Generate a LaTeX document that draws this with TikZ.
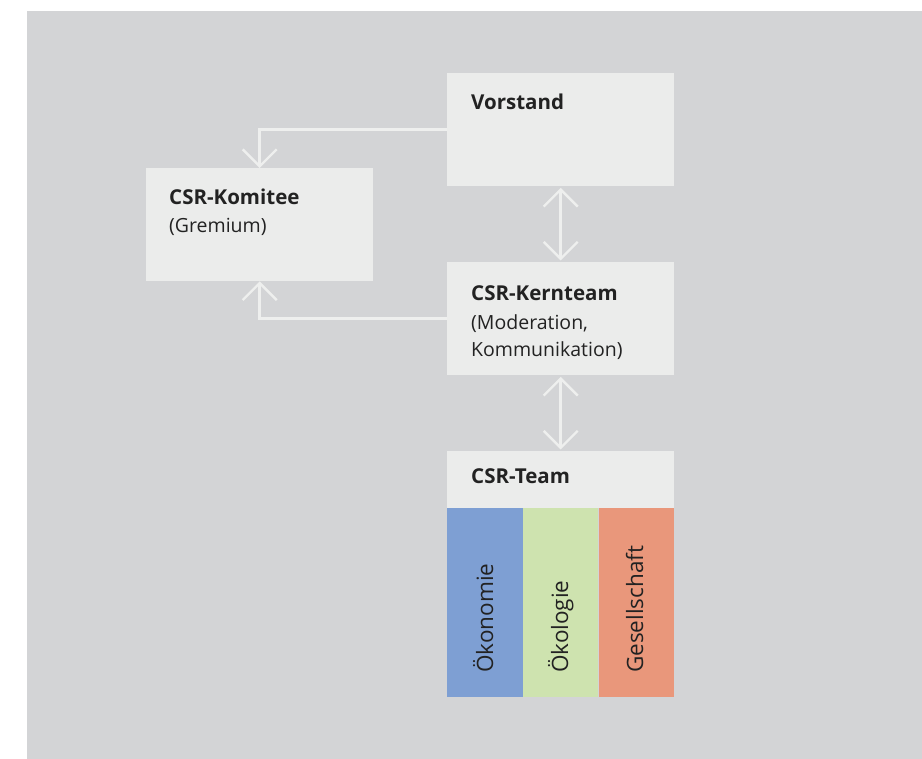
\documentclass[tikz,border=0pt]{standalone}
\usepackage{fontspec}
\setmainfont{Open Sans}
\usetikzlibrary{arrows.meta}
\definecolor{bggray}{HTML}{D3D4D6}
\definecolor{boxgray}{HTML}{EBECEB}
\definecolor{oeko}{HTML}{7E9FD3}
\definecolor{ecol}{HTML}{CEE3AF}
\definecolor{soc}{HTML}{E9977B}
\definecolor{arrw}{HTML}{EEEFEE}
\definecolor{txt}{HTML}{222222}
\tikzset{
  box/.style={draw=none, fill=boxgray, minimum width=227pt, minimum height=113pt, inner sep=0pt, anchor=north west},
  col/.style={draw=none, minimum width=75.5pt, minimum height=189pt, inner sep=0pt, anchor=north west},
  head/.style={font=\fontsize{20.5}{24}\selectfont\bfseries, text=txt, anchor=base west, inner sep=0pt},
  sub/.style={font=\fontsize{19.5}{24}\selectfont, text=txt, anchor=base west, inner sep=0pt},
  vert/.style={font=\fontsize{22.5}{26}\selectfont, text=txt, anchor=base west, inner sep=0pt, rotate=90},
  arr/.style={draw=arrw, line width=2.6pt, -{Straight Barb[length=17pt,width=34pt,line width=2.4pt]}},
  darr/.style={draw=arrw, line width=2.6pt, {Straight Barb[length=17pt,width=34pt,line width=2.4pt]}-{Straight Barb[length=17pt,width=34pt,line width=2.4pt]}}
}
\begin{document}
\begin{tikzpicture}[x=1pt,y=-1pt]
\useasboundingbox (0,0) rectangle (922,759);
\fill[bggray] (27,11) rectangle (922,759);
% boxes
\node[box] (vorstand) at (447,73) {};
\node[box] (komitee) at (146,168) {};
\node[box] (kernteam) at (447,262) {};
\node[box, minimum height=57pt] (team) at (447,451) {};
\node[col, fill=oeko] (oek) at (447,508) {};
\node[col, fill=ecol] (ecl) at (522.7,508) {};
\node[col, fill=soc] (ges) at (598.3,508) {};
% texts
\node[head] (tv) at (471,110) {Vorstand};
\node[head] (tk) at (169,205) {CSR-Komitee};
\node[sub] (tkg) at (169,233) {(Gremium)};
\node[head] (tkt) at (471,301) {CSR-Kernteam};
\node[sub] (tktm) at (471,330) {(Moderation,};
\node[sub] (tktk) at (471,357) {Kommunikation)};
\node[head] (tt) at (471,484) {CSR-Team};
\node[vert] (to) at (493,673) {Ökonomie};
\node[vert] (tl) at (568,673) {Ökologie};
\node[vert] (tg) at (643,673) {Gesellschaft};
% connectors
\draw[arr] (vorstand.west) -| (komitee.north);
\draw[arr] (kernteam.west) -| (komitee.south);
\draw[darr, shorten <=1.5pt, shorten >=1.5pt] (vorstand.south) -- (kernteam.north);
\draw[darr, shorten <=1.5pt, shorten >=1.5pt] (kernteam.south) -- (team.north);
\end{tikzpicture}
\end{document}
